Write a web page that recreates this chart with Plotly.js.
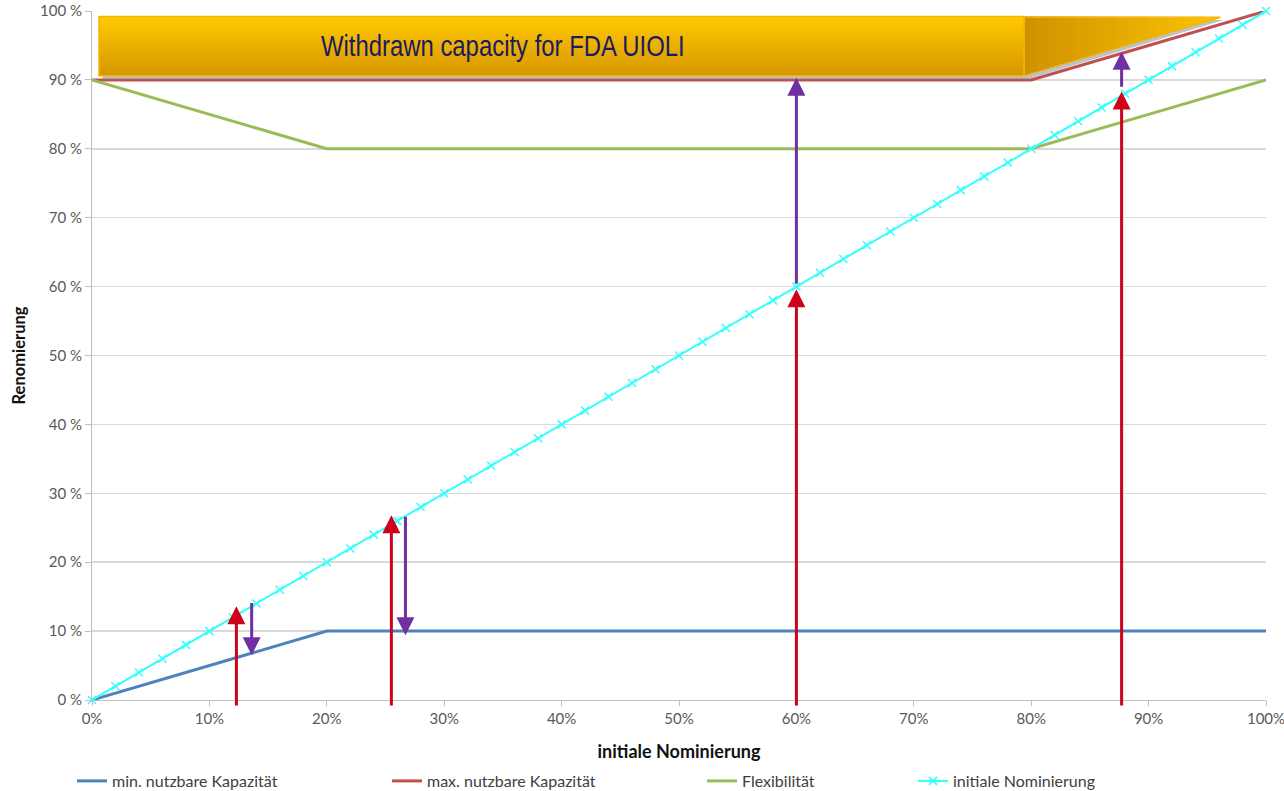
<!DOCTYPE html>
<html>
<head>
<meta charset="utf-8">
<script src="https://cdn.plot.ly/plotly-3.0.1.min.js"></script>
<style>html,body{margin:0;padding:0;background:#fff;}#chart{width:1284px;height:791px;}</style>
</head>
<body>
<div id="chart"></div>
<script>
// ---------- data (percent) ----------
const xPct      = [0, 10, 20, 30, 40, 50, 60, 70, 80, 90, 100];
const minKap    = [0, 5, 10, 10, 10, 10, 10, 10, 10, 10, 10];
const maxKap    = [90, 90, 90, 90, 90, 90, 90, 90, 90, 95, 100];
const flexY     = [90, 85, 80, 80, 80, 80, 80, 80, 80, 85, 90];
const nomX = [0,2,4,6,8,10,12,14,16,18,20,22,24,26,28,30,32,34,36,38,40,42,44,46,48,50,52,54,56,58,60,62,64,66,68,70,72,74,76,78,80,82,84,86,88,90,92,94,96,98,100];
const nomY = [0,2,4,6,8,10,12,14,16,18,20,22,24,26,28,30,32,34,36,38,40,42,44,46,48,50,52,54,56,58,60,62,64,66,68,70,72,74,76,78,80,82,84,86,88,90,92,94,96,98,100];

const seriesNames = ['min. nutzbare Kapazität', 'max. nutzbare Kapazität', 'Flexibilität', 'initiale Nominierung'];

// arrows: red = initial nomination, purple = renomination shift
const upArrowX     = [12.3, 25.5, 60, 87.7];
const upArrowFrom  = [-1, -1, -1, -1];
const upArrowTip   = [13.6, 26.8, 59.6, 88.3];
const shiftArrowX    = [13.6, 26.7, 60, 87.7];
const shiftArrowFrom = [14.3, 26.8, 60.2, 88.8];
const shiftArrowTo   = [6.5, 9.4, 90.3, 94.1];

const xTickVals = [0,10,20,30,40,50,60,70,80,90,100];
const xTickText = ['0%','10%','20%','30%','40%','50%','60%','70%','80%','90%','100%'];
const yTickVals = [0,10,20,30,40,50,60,70,80,90,100];
const yTickText = ['0 %','10 %','20 %','30 %','40 %','50 %','60 %','70 %','80 %','90 %','100 %'];

const bannerText = 'Withdrawn capacity for FDA UIOLI';

// ---------- traces ----------
const traces = [
  {x: xPct, y: minKap, name: seriesNames[0], type: 'scatter', mode: 'lines',
   line: {color: '#4F81BD', width: 3}, legend: 'legend'},
  {x: xPct, y: maxKap, name: seriesNames[1], type: 'scatter', mode: 'lines',
   line: {color: '#C0504D', width: 3}, legend: 'legend'},
  {x: xPct, y: flexY, name: seriesNames[2], type: 'scatter', mode: 'lines',
   line: {color: '#9BBB59', width: 3}, legend: 'legend'},
  {x: nomX, y: nomY, name: seriesNames[3], type: 'scatter', mode: 'lines+markers',
   line: {color: '#33FFFF', width: 2},
   marker: {symbol: 'x-thin', size: 8, color: '#33FFFF', line: {color: '#33FFFF', width: 1.5}},
   cliponaxis: false, legend: 'legend2'}
];

// ---------- banner shapes (decoration) ----------
function lerpColor(a, b, t) {
  const pa = [parseInt(a.slice(1,3),16), parseInt(a.slice(3,5),16), parseInt(a.slice(5,7),16)];
  const pb = [parseInt(b.slice(1,3),16), parseInt(b.slice(3,5),16), parseInt(b.slice(5,7),16)];
  const c = pa.map((v,i) => Math.round(v + (pb[i]-v)*t));
  return 'rgb(' + c.join(',') + ')';
}
const shapes = [];
const bx0 = 0.6, bx1 = 79.4, by0 = 90.6, by1 = 99.2;
const triTipX = 96.1, triTopY = 99.1;
const slope = 0.5;              // bottom edge of triangle (parallel to max line)
const triBottom = x => by0 + slope * (x - bx1);

// shadow
shapes.push({type: 'path', xref: 'x', yref: 'y', layer: 'above',
  path: `M${bx0+0.3},${by1-0.4} L${bx1+0.3},${by1-0.4} L${triTipX+0.3},${triTopY-0.4} L${bx1+0.3},${by0-0.5} L${bx0+0.3},${by0-0.5} Z`,
  fillcolor: 'rgba(140,140,150,0.55)', line: {width: 0}});

// rectangle with vertical gradient (solid base + overlapping strips)
shapes.push({type: 'rect', xref: 'x', yref: 'y', layer: 'above',
  x0: bx0, x1: bx1, y0: by0, y1: by1, fillcolor: '#EAB000', line: {width: 0}});
const nStrip = 24;
for (let i = 0; i < nStrip; i++) {
  const ya = by1 - (by1 - by0) * i / nStrip;
  const yb = by1 - (by1 - by0) * (i + 1) / nStrip;
  shapes.push({type: 'rect', xref: 'x', yref: 'y', layer: 'above',
    x0: bx0, x1: bx1, y0: Math.max(by0, yb - 0.12), y1: ya,
    fillcolor: lerpColor('#FFC900', '#D69700', i / (nStrip - 1)), line: {width: 0}});
}
// triangle with horizontal gradient
const nTri = 30;
for (let i = 0; i < nTri; i++) {
  const xa = bx1 + (triTipX - bx1) * i / nTri;
  const xb = bx1 + (triTipX - bx1) * (i + 1) / nTri + 0.05;
  const ba = Math.min(triBottom(xa), triTopY), bb = Math.min(triBottom(xb), triTopY);
  shapes.push({type: 'path', xref: 'x', yref: 'y', layer: 'above',
    path: `M${xa},${triTopY} L${xb},${triTopY} L${xb},${bb} L${xa},${ba} Z`,
    fillcolor: lerpColor('#D09200', '#FAC300', i / (nTri - 1)), line: {width: 0}});
}
// outlines
shapes.push({type: 'rect', xref: 'x', yref: 'y', layer: 'above',
  x0: bx0, x1: bx1, y0: by0, y1: by1, line: {color: '#F5B400', width: 1.5}});
shapes.push({type: 'path', xref: 'x', yref: 'y', layer: 'above',
  path: `M${bx1},${by1} L${triTipX},${triTopY} L${bx1},${by0} Z`,
  line: {color: '#F5B400', width: 1.2}});

// ---------- annotations ----------
const annotations = [];
annotations.push({x: 35, y: 94.9, xref: 'x', yref: 'y', text: bannerText, showarrow: false,
  font: {family: '"Liberation Sans Narrow", "Arial Narrow", "Liberation Sans", sans-serif', size: 29, color: '#1B1A62'}});
for (let i = 0; i < upArrowX.length; i++) {
  annotations.push({x: upArrowX[i], y: upArrowTip[i], ax: upArrowX[i], ay: upArrowFrom[i],
    xref: 'x', yref: 'y', axref: 'x', ayref: 'y', text: '', showarrow: true,
    arrowhead: 2, arrowsize: 1.2, arrowwidth: 3, arrowcolor: '#D0021B', standoff: 0});
}
for (let i = 0; i < shiftArrowX.length; i++) {
  annotations.push({x: shiftArrowX[i], y: shiftArrowTo[i], ax: shiftArrowX[i], ay: shiftArrowFrom[i],
    xref: 'x', yref: 'y', axref: 'x', ayref: 'y', text: '', showarrow: true,
    arrowhead: 2, arrowsize: 1.2, arrowwidth: 3, arrowcolor: '#7030A0', standoff: 0});
}

const baseFont = 'Lato, "Liberation Sans", sans-serif';
const layout = {
  width: 1284, height: 791,
  margin: {l: 92, r: 18, t: 11, b: 91},
  paper_bgcolor: '#ffffff', plot_bgcolor: '#ffffff',
  font: {family: baseFont, size: 15, color: '#595959'},
  xaxis: {
    range: [0, 100], tickvals: xTickVals, ticktext: xTickText,
    showgrid: false, zeroline: false, showline: true, linecolor: '#BFBFBF', linewidth: 1,
    ticks: 'outside', ticklen: 5, tickcolor: '#BFBFBF', tickfont: {size: 15, color: '#595959'},
    ticklabeloverflow: 'allow',
    title: {text: 'initiale Nominierung', font: {family: baseFont, size: 18, color: '#111111', weight: 'bold'}, standoff: 19},
    automargin: false
  },
  yaxis: {
    range: [0, 100], tickvals: yTickVals, ticktext: yTickText,
    showgrid: true, gridcolor: '#D9D9D9', gridwidth: 1.5, zeroline: false,
    showline: true, linecolor: '#BFBFBF', linewidth: 1,
    ticks: 'outside', ticklen: 6, tickcolor: '#BFBFBF', tickfont: {size: 15, color: '#595959'},
    ticklabeloverflow: 'allow',
    title: {text: 'Renomierung', font: {family: baseFont, size: 16.5, color: '#111111', weight: 'bold'}, standoff: 10},
    automargin: false
  },
  showlegend: true,
  legend: {orientation: 'h', xref: 'container', yref: 'container', x: 72/1284, y: 10/791,
    xanchor: 'left', yanchor: 'middle', entrywidth: 270, entrywidthmode: 'pixels',
    font: {family: baseFont, size: 16, color: '#404040'}, bgcolor: 'rgba(0,0,0,0)', traceorder: 'normal'},
  legend2: {orientation: 'h', xref: 'container', yref: 'container', x: 913/1284, y: 10/791,
    xanchor: 'left', yanchor: 'middle',
    font: {family: baseFont, size: 16, color: '#404040'}, bgcolor: 'rgba(0,0,0,0)'},
  shapes: shapes,
  annotations: annotations
};

Plotly.newPlot('chart', traces, layout, {displayModeBar: false, staticPlot: true}).then(function (gd) {
  // condense the banner text horizontally (narrow typeface look)
  gd.querySelectorAll('text.annotation-text').forEach(function (t) {
    if (t.textContent === bannerText) {
      const bb = t.getBBox();
      const cx = bb.x + bb.width / 2;
      const target = 364;
      const s = Math.min(1, target / bb.width);
      t.setAttribute('transform', `translate(${cx},0) scale(${s},1) translate(${-cx},0)`);
    }
  });
});
</script>
</body>
</html>
